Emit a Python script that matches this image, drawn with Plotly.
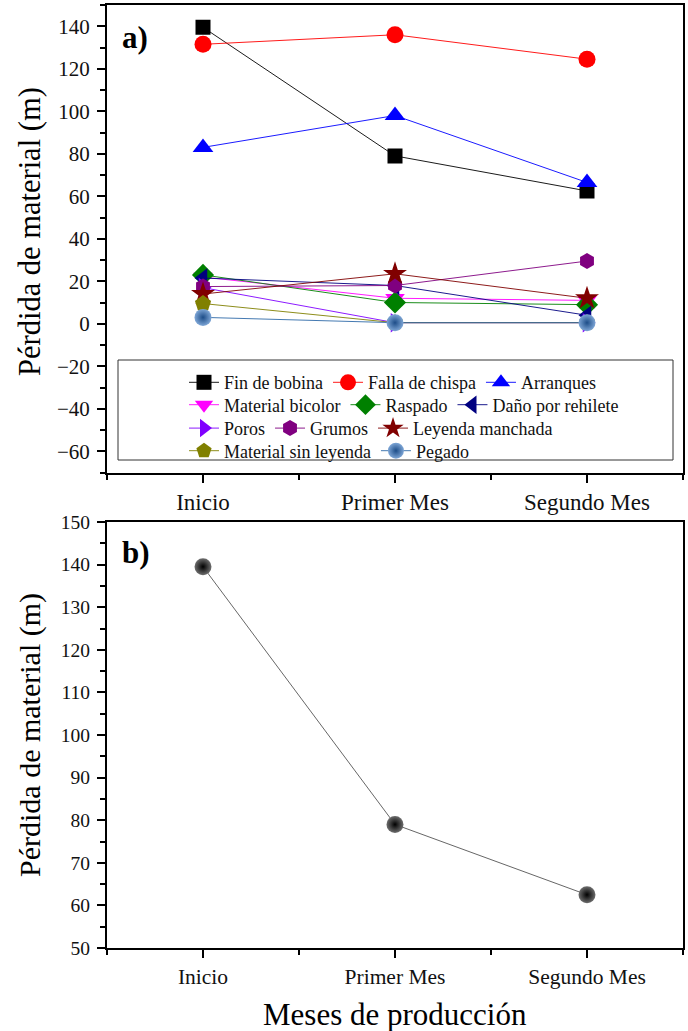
import plotly.graph_objects as go

# ---------------- data ----------------
months = ["Inicio", "Primer Mes", "Segundo Mes"]

series_names = [
    "Fin de bobina", "Falla de chispa", "Arranques",
    "Material bicolor", "Raspado", "Daño por rehilete",
    "Poros", "Grumos", "Leyenda manchada",
    "Material sin leyenda", "Pegado",
]

fin_bobina = [139.5, 79.0, 62.5]
falla_chispa = [131.5, 136.0, 124.5]
arranques = [83.0, 98.0, 66.5]
material_bicolor = [22.0, 12.0, 11.0]
raspado = [23.0, 10.0, 9.0]
dano_rehilete = [21.5, 18.0, 4.0]
poros = [17.0, 0.5, 0.5]
grumos = [17.5, 18.0, 29.5]
leyenda_manchada = [14.0, 23.5, 12.0]
material_sin_leyenda = [9.5, 0.5, 0.5]
pegado = [3.0, 0.5, 0.5]

series_values = [
    fin_bobina, falla_chispa, arranques,
    material_bicolor, raspado, dano_rehilete,
    poros, grumos, leyenda_manchada,
    material_sin_leyenda, pegado,
]

# panel b shows the "Fin de bobina" series
panel_b_values = fin_bobina

y_title = "Pérdida de material (m)"
x_title = "Meses de producción"

# ---------------- styles ----------------
colors = ["#000000", "#ff0000", "#0000ff", "#ff00ff", "#008000", "#000080",
          "#8000ff", "#800080", "#800000", "#808000", "#2f6aa8"]
symbols = ["square", "circle", "triangle-up", "triangle-down", "diamond",
           "triangle-left", "triangle-right", "hexagon", "star", "pentagon",
           "circle"]
sizes = [15, 17, 18, 17, 17, 17, 17, 16, 18, 17, 17]
legend_rows = ["legend", "legend", "legend",
               "legend2", "legend2", "legend2",
               "legend3", "legend3", "legend3",
               "legend4", "legend4"]

x_idx = list(range(len(months)))

FONT = "Liberation Serif"

fig = go.Figure()

for i, (name, vals) in enumerate(zip(series_names, series_values)):
    marker = dict(symbol=symbols[i], size=sizes[i], color=colors[i],
                  line=dict(width=0))
    if name == "Pegado":
        marker = dict(symbol="circle", size=sizes[i], color="#7ea6d6",
                      gradient=dict(type="radial", color="#1d4d88"),
                      line=dict(width=0))
    fig.add_trace(go.Scatter(
        x=x_idx, y=vals, name=name, mode="lines+markers",
        line=dict(color=colors[i], width=0.9),
        marker=marker, xaxis="x", yaxis="y",
        legend=legend_rows[i],
    ))

fig.add_trace(go.Scatter(
    x=x_idx, y=panel_b_values, name="Fin de bobina (b)", mode="lines+markers",
    line=dict(color="#555555", width=0.9),
    marker=dict(symbol="circle", size=17, color="#6e6e6e",
                gradient=dict(type="radial", color="#000000"),
                line=dict(width=0)),
    xaxis="x2", yaxis="y2", showlegend=False,
))

W, H = 688, 1031
ML, MR, MT, MB = 107, 5, 5, 83
PH = H - MT - MB
PW = W - ML - MR


def py(px):
    return 1 - (px - MT) / PH


def pxx(px):
    return (px - ML) / PW


axis_common = dict(
    showline=True, linecolor="black", linewidth=2, mirror=True,
    ticks="outside", ticklen=8, tickwidth=1.5, tickcolor="black",
    showgrid=False, zeroline=False, automargin=False,
)

xa = dict(axis_common, range=[-0.5, 2.5], tickvals=x_idx, ticktext=months,
          minor=dict(ticks="outside", ticklen=5, tickwidth=1.5,
                     tickcolor="black", dtick=0.5, tick0=0, showgrid=False))

fig.update_layout(
    width=W, height=H,
    margin=dict(l=ML, r=MR, t=MT, b=MB, autoexpand=False),
    paper_bgcolor="white", plot_bgcolor="white",
    font=dict(family=FONT, color="black"),
    xaxis=dict(xa, anchor="y", domain=[0, 1],
               tickfont=dict(size=23, family=FONT, color="#111")),
    yaxis=dict(axis_common, anchor="x", domain=[py(472.5), 1],
               range=[-70, 150], dtick=20, tick0=0, ticklabelstandoff=3,
               tickfont=dict(size=21, family=FONT, color="#111"),
               minor=dict(ticks="outside", ticklen=5, tickwidth=1.5,
                          tickcolor="black", dtick=10, showgrid=False)),
    xaxis2=dict(xa, anchor="y2", domain=[0, 1],
                tickfont=dict(size=21.5, family=FONT, color="#111")),
    yaxis2=dict(axis_common, anchor="x2", domain=[0, py(522)],
                range=[50, 150], dtick=10, tick0=0, ticklabelstandoff=3,
                tickfont=dict(size=19.5, family=FONT, color="#111"),
                minor=dict(ticks="outside", ticklen=5, tickwidth=1.5,
                           tickcolor="black", dtick=5, showgrid=False)),
    showlegend=True,
)

legend_common = dict(orientation="h", xanchor="left", yanchor="middle",
                     bgcolor="rgba(0,0,0,0)", borderwidth=0,
                     font=dict(size=18, family=FONT, color="#111"),
                     itemsizing="trace", tracegroupgap=0)
leg_x = pxx(184)
fig.update_layout(
    legend=dict(legend_common, x=leg_x, y=py(382.6)),
    legend2=dict(legend_common, x=leg_x, y=py(405)),
    legend3=dict(legend_common, x=leg_x, y=py(428.4)),
    legend4=dict(legend_common, x=leg_x, y=py(451)),
)

fig.add_shape(type="rect", xref="paper", yref="paper",
              x0=pxx(118), x1=pxx(673), y0=py(460), y1=py(360),
              line=dict(color="#333", width=1), fillcolor="rgba(0,0,0,0)",
              layer="below")

fig.add_annotation(text="<b>a)</b>", xref="paper", yref="paper",
                   x=pxx(120), y=py(37), xanchor="left", yanchor="middle",
                   showarrow=False, font=dict(size=31, family=FONT))
fig.add_annotation(text="<b>b)</b>", xref="paper", yref="paper",
                   x=pxx(120), y=py(552), xanchor="left", yanchor="middle",
                   showarrow=False, font=dict(size=31, family=FONT))

# axis titles
fig.add_annotation(text=y_title, xref="paper", yref="paper",
                   x=pxx(30), y=py(232), xanchor="center", yanchor="middle",
                   textangle=-90, showarrow=False,
                   font=dict(size=30.5, family=FONT, color="black"))
fig.add_annotation(text=y_title, xref="paper", yref="paper",
                   x=pxx(30), y=py(735), xanchor="center", yanchor="middle",
                   textangle=-90, showarrow=False,
                   font=dict(size=30, family=FONT, color="black"))
fig.add_annotation(text=x_title, xref="paper", yref="paper",
                   x=pxx(395), y=py(1014), xanchor="center", yanchor="middle",
                   showarrow=False,
                   font=dict(size=31, family=FONT, color="black"))

# remove the default 8px body margin so the figure fills the window exactly
fig.write_html("out.html",
               config={"displayModeBar": False},
               post_script="document.body.style.margin='0px';"
                           "document.body.style.overflow='hidden';")
